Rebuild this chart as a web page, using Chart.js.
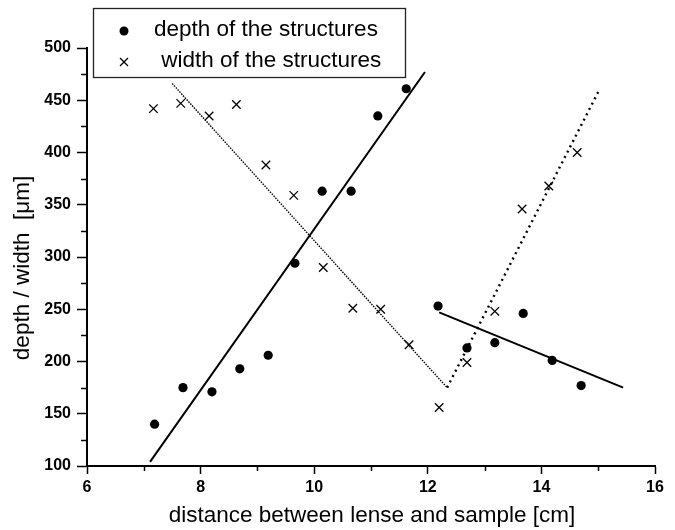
<!DOCTYPE html>
<html>
<head>
<meta charset="utf-8">
<script src="https://cdn.jsdelivr.net/npm/chart.js@4/dist/chart.umd.min.js"></script>
<style>
html,body{margin:0;padding:0;background:#fff;}
#wrap{width:675px;height:530px;position:relative;}
</style>
</head>
<body>
<div id="wrap"><canvas id="c" width="675" height="530"></canvas></div>
<script>
// ---- data ----
const depthX = [7.19, 7.69, 8.20, 8.69, 9.19, 9.66, 10.14, 10.65, 11.12, 11.62, 12.18, 12.69, 13.18, 13.68, 14.19, 14.70];
const depthY = [140, 175, 171, 193, 206, 294, 363, 363, 435, 461, 253, 213, 218, 246, 201, 177];
const widthX = [7.17, 7.65, 8.15, 8.63, 9.15, 9.64, 10.16, 10.68, 11.17, 11.67, 12.20, 12.69, 13.18, 13.66, 14.13, 14.63];
const widthY = [442, 447, 435, 446, 388, 359, 290, 251, 250, 216, 156, 199, 248, 346, 368, 400];

const fitDepth1X = [7.11, 11.95], fitDepth1Y = [104, 477];
const fitDepth2X = [12.20, 15.44], fitDepth2Y = [247, 175];
const fitWidth1X = [7.50, 12.34], fitWidth1Y = [466, 175];
const fitWidth2X = [12.34, 15.01], fitWidth2Y = [175, 459];

const xTicks = [6, 8, 10, 12, 14, 16];
const yTicks = [100, 150, 200, 250, 300, 350, 400, 450, 500];
const xMinor = [7, 9, 11, 13, 15];
const yMinor = [125, 175, 225, 275, 325, 375, 425, 475];

const legendLabels = ['depth of the structures', ' width of the structures'];
const xTitle = 'distance between lense and sample [cm]';
const yTitle = 'depth / width  [\u03bcm]';

const pts = (xs, ys) => xs.map((x, i) => ({x: x, y: ys[i]}));
const FONT = '"Liberation Sans", Arial, sans-serif';

const extras = {
  id: 'extras',
  afterDraw(chart) {
    const ctx = chart.ctx;
    const xs = chart.scales.x, ys = chart.scales.y;
    ctx.save();
    // minor ticks
    ctx.strokeStyle = '#000';
    ctx.lineWidth = 1.5;
    const ax = xs.left, ay = ys.bottom;
    yMinor.forEach(v => {
      const p = Math.round(ys.getPixelForValue(v)) + 0.5;
      ctx.beginPath(); ctx.moveTo(ax - 6, p); ctx.lineTo(ax, p); ctx.stroke();
    });
    xMinor.forEach(v => {
      const p = Math.round(xs.getPixelForValue(v)) + 0.5;
      ctx.beginPath(); ctx.moveTo(p, ay); ctx.lineTo(p, ay + 5); ctx.stroke();
    });
    // axis titles
    ctx.fillStyle = '#000';
    ctx.font = '22.5px ' + FONT;
    ctx.textAlign = 'center';
    ctx.textBaseline = 'middle';
    ctx.fillText(xTitle, 372, 516);
    ctx.save();
    ctx.translate(23, 268);
    ctx.rotate(-Math.PI / 2);
    ctx.fillText(yTitle, 0, 0);
    ctx.restore();
    // legend
    ctx.lineWidth = 1.3;
    ctx.strokeStyle = '#222';
    ctx.fillStyle = '#fff';
    ctx.fillRect(93, 8, 312, 69);
    ctx.strokeRect(93.5, 8.5, 312, 69);
    ctx.fillStyle = '#000';
    ctx.beginPath(); ctx.arc(124, 31, 4.5, 0, Math.PI * 2); ctx.fill();
    ctx.lineWidth = 1.3; ctx.strokeStyle = '#000';
    ctx.beginPath();
    ctx.moveTo(120, 58); ctx.lineTo(128, 66);
    ctx.moveTo(128, 58); ctx.lineTo(120, 66);
    ctx.stroke();
    ctx.textAlign = 'left';
    ctx.font = '22.5px ' + FONT;
    ctx.fillText(legendLabels[0], 154, 30);
    ctx.fillText(legendLabels[1], 155, 61);
    ctx.restore();
  }
};

new Chart(document.getElementById('c'), {
  type: 'scatter',
  data: {
    datasets: [
      {label: legendLabels[0], data: pts(depthX, depthY), pointStyle: 'circle', pointRadius: 4.6,
       backgroundColor: '#000', borderColor: '#000', borderWidth: 0, showLine: false},
      {label: legendLabels[1], data: pts(widthX, widthY), pointStyle: 'crossRot', pointRadius: 6,
       backgroundColor: '#000', borderColor: '#000', borderWidth: 1.3, showLine: false},
      {label: 'fit depth 1', data: pts(fitDepth1X, fitDepth1Y), showLine: true, pointRadius: 0,
       borderColor: '#000', borderWidth: 2},
      {label: 'fit depth 2', data: pts(fitDepth2X, fitDepth2Y), showLine: true, pointRadius: 0,
       borderColor: '#000', borderWidth: 2},
      {label: 'fit width 1', data: pts(fitWidth1X, fitWidth1Y), showLine: true, pointRadius: 0,
       borderColor: '#000', borderWidth: 1.4, borderDash: [1.5, 1.2]},
      {label: 'fit width 2', data: pts(fitWidth2X, fitWidth2Y), showLine: true, pointRadius: 0,
       borderColor: '#000', borderWidth: 2.4, borderDash: [2, 4]}
    ]
  },
  options: {
    responsive: false,
    animation: false,
    layout: {padding: {left: 0, top: 48, right: 20, bottom: 0}},
    plugins: {legend: {display: false}, tooltip: {enabled: false}},
    scales: {
      x: {
        type: 'linear', min: 6, max: 16,
        afterBuildTicks: s => { s.ticks = xTicks.map(v => ({value: v})); },
        afterFit: s => { s.height = 64; },
        grid: {drawOnChartArea: false, drawTicks: true, tickLength: 8, color: '#000', tickWidth: 1.5},
        border: {display: true, color: '#000', width: 2},
        ticks: {color: '#000', padding: 4, font: {family: FONT, size: 16, weight: 'bold'}, maxRotation: 0}
      },
      y: {
        type: 'linear', min: 100, max: 500,
        afterBuildTicks: s => { s.ticks = yTicks.map(v => ({value: v})); },
        afterFit: s => { s.width = 87; },
        grid: {drawOnChartArea: false, drawTicks: true, tickLength: 10, color: '#000', tickWidth: 1.5},
        border: {display: true, color: '#000', width: 2},
        ticks: {color: '#000', padding: 6, font: {family: FONT, size: 16, weight: 'bold'}}
      }
    }
  },
  plugins: [extras]
});
</script>
</body>
</html>
